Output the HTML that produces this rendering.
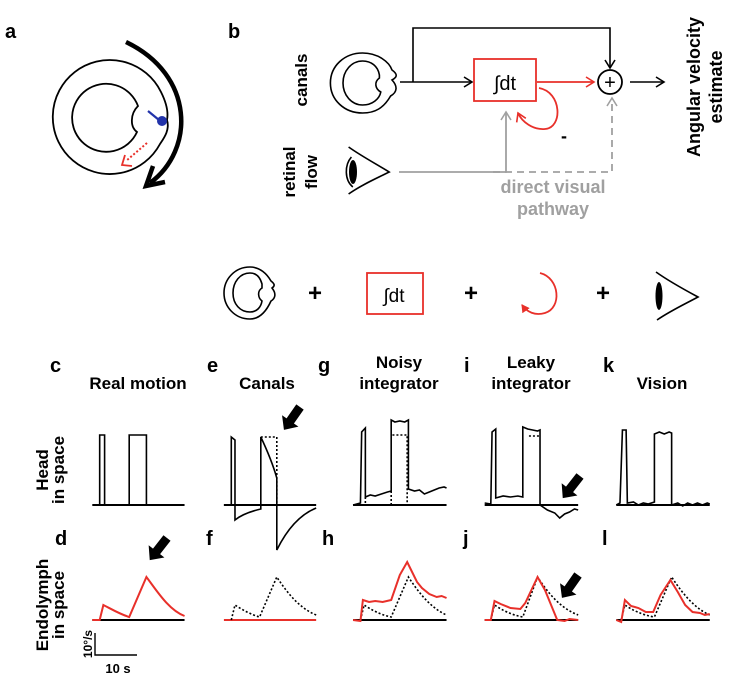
<!DOCTYPE html>
<html><head><meta charset="utf-8"><style>
html,body{margin:0;padding:0;background:#fff}
svg{display:block}
text{font-family:"Liberation Sans",Arial,sans-serif;font-weight:bold}
.n{vector-effect:non-scaling-stroke}
</style></head><body>
<svg width="729" height="678" viewBox="0 0 729 678" xmlns="http://www.w3.org/2000/svg">
<defs>
<marker id="ab" markerWidth="12" markerHeight="12" refX="9" refY="6" orient="auto" markerUnits="userSpaceOnUse"><path d="M1,1 L9,6 L1,11" fill="none" stroke="#000" stroke-width="1.6"/></marker>
<marker id="ar" markerWidth="12" markerHeight="12" refX="9" refY="6" orient="auto" markerUnits="userSpaceOnUse"><path d="M1,1 L9,6 L1,11" fill="none" stroke="#e8302a" stroke-width="1.6"/></marker>
<marker id="ag" markerWidth="12" markerHeight="12" refX="9" refY="6" orient="auto" markerUnits="userSpaceOnUse"><path d="M1,1 L9,6 L1,11" fill="none" stroke="#a0a0a0" stroke-width="1.6"/></marker>
<marker id="arf" markerWidth="9" markerHeight="9" refX="7" refY="4.5" orient="auto" markerUnits="userSpaceOnUse"><path d="M0,0 L8,4.5 L0,9 z" fill="#e8302a"/></marker>
</defs>

<text x="5" y="38" font-size="20">a</text>
<text x="228" y="38" font-size="20">b</text>

<!-- panel a -->
<g fill="none" stroke="#000" stroke-width="1.8">
<path d="M161,92 A57,57 0 1 0 160,144 C164,138 170,130 167,120 C169,110 165,100 161,92 Z"/>
<path d="M138,106 A34,34 0 1 0 137,132 C130,127 130,114 138,106 Z"/>
</g>
<path d="M126,42 C195,75 195,150 150,183" fill="none" stroke="#000" stroke-width="4.5"/>
<path d="M153,166 L146,186 L165,182" fill="none" stroke="#000" stroke-width="4.5"/>
<line x1="148" y1="111" x2="159" y2="120" stroke="#2233aa" stroke-width="2.2"/>
<circle cx="162" cy="121" r="5" fill="#2233aa"/>
<line x1="147" y1="143" x2="126" y2="161" stroke="#e8302a" stroke-width="2" stroke-dasharray="2,2"/>
<path d="M125,155 L122,165 L132,166" fill="none" stroke="#e8302a" stroke-width="1.8"/>

<!-- panel b icons (x * 1.4) -->
<g transform="matrix(1.4,0,0,1,0,0)">
<g fill="none" stroke="#000" stroke-width="1.6">
<path class="n" d="M280,80 C284,86 284,92 279,96 C274,108 268,113 259,113 C246,113 236,100 236,83 C236,66 246,53 259,53 C270,53 278,62 280,70 C284,74 284,77 280,80 Z"/>
<path class="n" d="M271,75 C270,66 265,61 259,61 C251,61 245,71 245,83 C245,95 251,105 259,105 C266,105 271,99 272,92 C268,89 267,82 271,78 Z"/>
<path class="n" d="M249,147 C258,156 270,165 278,172 C268,179 258,185 249,194"/>
<path class="n" d="M251,157 C246,165 246,180 252,187"/>
</g>
</g>
<ellipse cx="353" cy="172" rx="4" ry="12" fill="#000"/>

<text transform="translate(307,80) rotate(-90)" font-size="17" text-anchor="middle">canals</text>
<text transform="translate(295,172) rotate(-90)" font-size="17" text-anchor="middle">retinal</text>
<text transform="translate(317,172) rotate(-90)" font-size="17" text-anchor="middle">flow</text>
<line x1="400" y1="82" x2="472" y2="82" stroke="#000" stroke-width="1.6" marker-end="url(#ab)"/>
<polyline points="413,82 413,28 610,28 610,68" fill="none" stroke="#000" stroke-width="1.6" marker-end="url(#ab)"/>
<rect x="474" y="59" width="62" height="42" fill="#fff" stroke="#e8302a" stroke-width="1.8"/>
<text x="505" y="90" font-size="20" text-anchor="middle" style="font-weight:normal">∫dt</text>
<line x1="537" y1="82" x2="594" y2="82" stroke="#e8302a" stroke-width="1.8" marker-end="url(#ar)"/>
<circle cx="610" cy="82" r="12" fill="none" stroke="#000" stroke-width="1.8"/>
<text x="610" y="89" font-size="20" text-anchor="middle" style="font-weight:normal">+</text>
<line x1="630" y1="82" x2="664" y2="82" stroke="#000" stroke-width="1.6" marker-end="url(#ab)"/>
<path d="M539,88 C562,92 563,128 545,129 C533,130 522,122 518,113" fill="none" stroke="#e8302a" stroke-width="1.8" marker-end="url(#ar)"/>
<text x="561" y="142" font-size="18">-</text>
<text transform="translate(700,87) rotate(-90)" font-size="18" text-anchor="middle">Angular velocity</text>
<text transform="translate(722,87) rotate(-90)" font-size="18" text-anchor="middle">estimate</text>
<polyline points="399,172 506,172 506,112" fill="none" stroke="#a0a0a0" stroke-width="1.8" marker-end="url(#ag)"/>
<polyline points="493,172 612,172 612,98" fill="none" stroke="#a0a0a0" stroke-width="1.8" stroke-dasharray="7,5" marker-end="url(#ag)"/>
<text x="553" y="193" font-size="18" fill="#a0a0a0" text-anchor="middle">direct visual</text>
<text x="553" y="215" font-size="18" fill="#a0a0a0" text-anchor="middle">pathway</text>

<!-- middle row -->
<g fill="none" stroke="#000" stroke-width="1.6">
<path d="M272,288 C276,293 276,298 271,301 C266,312 259,319 250,319 C235,319 224,307 224,293 C224,279 235,267 250,267 C260,267 267,274 271,281 C275,284 275,286 272,288 Z"/>
<path d="M262,284 C260,277 256,273 250,273 C240,273 233,282 233,293 C233,304 240,312 250,312 C257,312 261,307 262,301 C258,298 257,291 262,288 Z"/>
</g>
<text x="315" y="301" font-size="24" text-anchor="middle">+</text>
<rect x="367" y="273" width="56" height="41" fill="none" stroke="#e8302a" stroke-width="1.8"/>
<text x="394" y="302" font-size="19" text-anchor="middle" style="font-weight:normal">∫dt</text>
<text x="471" y="301" font-size="24" text-anchor="middle">+</text>
<path d="M540,273 C560,278 562,308 545,313 C535,316 527,312 522,305" fill="none" stroke="#e8302a" stroke-width="1.8" marker-end="url(#arf)"/>
<text x="603" y="301" font-size="24" text-anchor="middle">+</text>
<g fill="none" stroke="#000" stroke-width="1.6">
<path d="M656,272 C670,282 685,290 698,297 C685,304 670,311 657,320"/>
</g>
<ellipse cx="659" cy="296" rx="3.5" ry="14" fill="#000"/>

<!-- titles -->
<g font-size="20"><text x="50" y="372">c</text><text x="207" y="372">e</text><text x="318" y="372">g</text><text x="464" y="372">i</text><text x="603" y="372">k</text></g>
<g font-size="17" text-anchor="middle">
<text x="138" y="389">Real motion</text>
<text x="267" y="389">Canals</text>
<text x="399" y="368">Noisy</text><text x="399" y="389">integrator</text>
<text x="531" y="368">Leaky</text><text x="531" y="389">integrator</text>
<text x="662" y="389">Vision</text>
</g>
<g font-size="20"><text x="55" y="545">d</text><text x="206" y="545">f</text><text x="322" y="545">h</text><text x="463" y="545">j</text><text x="602" y="545">l</text></g>
<text transform="translate(48,470) rotate(-90)" font-size="17" text-anchor="middle">Head</text>
<text transform="translate(64,470) rotate(-90)" font-size="17" text-anchor="middle">in space</text>
<text transform="translate(48,605) rotate(-90)" font-size="17" text-anchor="middle">Endolymph</text>
<text transform="translate(64,605) rotate(-90)" font-size="17" text-anchor="middle">in space</text>
<polyline points="95,633 95,655 137,655" fill="none" stroke="#000" stroke-width="1.4"/>
<text transform="translate(92,644) rotate(-90)" font-size="12" text-anchor="middle">10°/s</text>
<text x="118" y="673" font-size="13" text-anchor="middle">10 s</text>

<!-- plots (x scaled 1.23 about 80) -->
<g transform="matrix(1.23,0,0,1,-18.4,0)" fill="none" stroke-width="1.6">
<line class="n" x1="90" y1="505" x2="165" y2="505" stroke="#000" stroke-width="2"/>
<polyline class="n" points="96,505 96,435 100,435 100,505" stroke="#000"/>
<polyline class="n" points="120,505 120,435 134,435 134,505" stroke="#000"/>
<line class="n" x1="90" y1="620" x2="165" y2="620" stroke="#000" stroke-width="2"/>
<path class="n" d="M90,620 L96,620 L99,605 C104,608 112,614 120,617 L134,577 C142,590 152,610 165,616" stroke="#e8302a" stroke-width="2"/>

<line class="n" x1="197" y1="505" x2="272" y2="505" stroke="#000" stroke-width="2"/>
<path class="n" d="M197,505 L203,505 L203,437 L206,440 L206,520 C212,514 220,511 227,509 L227,437 C232,450 237,465 240,478 L240,550 C248,530 258,515 272,508" stroke="#000"/>
<polyline class="n" points="227,437 240,437 240,505" stroke="#000" stroke-dasharray="2,2"/>
<line class="n" x1="197" y1="620" x2="272" y2="620" stroke="#e8302a" stroke-width="2"/>
<path class="n" d="M203,620 L206,605 C212,610 220,615 226,617 L240,577 C248,592 258,608 272,615" stroke="#000" stroke-dasharray="2,2"/>

<line class="n" x1="302" y1="505" x2="378" y2="505" stroke="#000" stroke-width="2"/>
<polyline class="n" points="302,505 308,503 309,432 312,428 312,497 316,495 320,496 325,494 330,492 333,491 333,420 336,422 340,421 344,422 347,420 347,489 352,491 356,490 360,494 364,492 368,490 372,488 376,487 378,488" stroke="#000"/>
<polyline class="n" points="312,497 312,505" stroke="#000" stroke-dasharray="2,2"/>
<polyline class="n" points="333,491 333,505" stroke="#000" stroke-dasharray="2,2"/>
<polyline class="n" points="334,435 346,435 346,505" stroke="#000" stroke-dasharray="2,2"/>
<line class="n" x1="302" y1="620" x2="378" y2="620" stroke="#000" stroke-width="2"/>
<path class="n" d="M308,620 L311,605 C317,610 325,615 333,617 L347,577 C355,592 365,608 378,615" stroke="#000" stroke-dasharray="2,2"/>
<polyline class="n" points="302,620 308,621 310,600 315,602 320,601 326,602 333,600 340,575 346,562 350,572 354,582 358,588 364,594 370,597 374,596 378,598" stroke="#e8302a" stroke-width="2"/>

<line class="n" x1="409" y1="505" x2="485" y2="505" stroke="#000" stroke-width="2"/>
<polyline class="n" points="409,503 414,504 415,432 418,429 418,498 424,496 430,497 436,496 440,497 440,427 444,429 448,430 452,431 454,430 454,505 460,510 466,513 470,518 474,514 478,512 482,509 485,510" stroke="#000"/>
<polyline class="n" points="445,436 454,436" stroke="#000" stroke-dasharray="2,2"/>
<line class="n" x1="409" y1="620" x2="485" y2="620" stroke="#000" stroke-width="2"/>
<path class="n" d="M414,620 L417,605 C423,610 431,615 440,617 L452,577 C460,592 470,608 485,615" stroke="#000" stroke-dasharray="2,2"/>
<polyline class="n" points="409,620 414,620 417,601 422,604 430,608 438,609 442,603 447,590 452,577 458,590 464,608 468,620 474,621 478,619 485,620" stroke="#e8302a" stroke-width="2"/>

<line class="n" x1="516" y1="505" x2="592" y2="505" stroke="#000" stroke-width="2"/>
<polyline class="n" points="516,505 519,503 521,430 524,430 525,503 530,502 534,505 538,503 542,504 547,502 547,434 551,432 555,434 559,432 561,433 561,505 566,503 570,506 574,503 578,505 582,503 586,505 590,503 592,504" stroke="#000"/>
<line class="n" x1="516" y1="620" x2="592" y2="620" stroke="#000" stroke-width="2"/>
<path class="n" d="M520,620 L523,605 C529,610 537,615 547,617 L561,577 C569,592 579,608 592,615" stroke="#000" stroke-dasharray="2,2"/>
<polyline class="n" points="516,620 520,622 523,600 528,606 534,608 540,612 546,612 552,595 560,580 566,592 572,605 578,612 584,613 588,615 592,614" stroke="#e8302a" stroke-width="2"/>
</g>

<g fill="#000">
<path d="M0,-4.5 L17,-4.5 L17,-10 L28,0 L17,10 L17,4.5 L0,4.5 Z" transform="translate(167,538) rotate(128)"/>
<path d="M0,-4.5 L17,-4.5 L17,-10 L28,0 L17,10 L17,4.5 L0,4.5 Z" transform="translate(300,407) rotate(125)"/>
<path d="M0,-4.5 L17,-4.5 L17,-10 L28,0 L17,10 L17,4.5 L0,4.5 Z" transform="translate(580,476) rotate(128)"/>
<path d="M0,-4.5 L17,-4.5 L17,-10 L28,0 L17,10 L17,4.5 L0,4.5 Z" transform="translate(578,575) rotate(125)"/>
</g>
</svg>
</body></html>
